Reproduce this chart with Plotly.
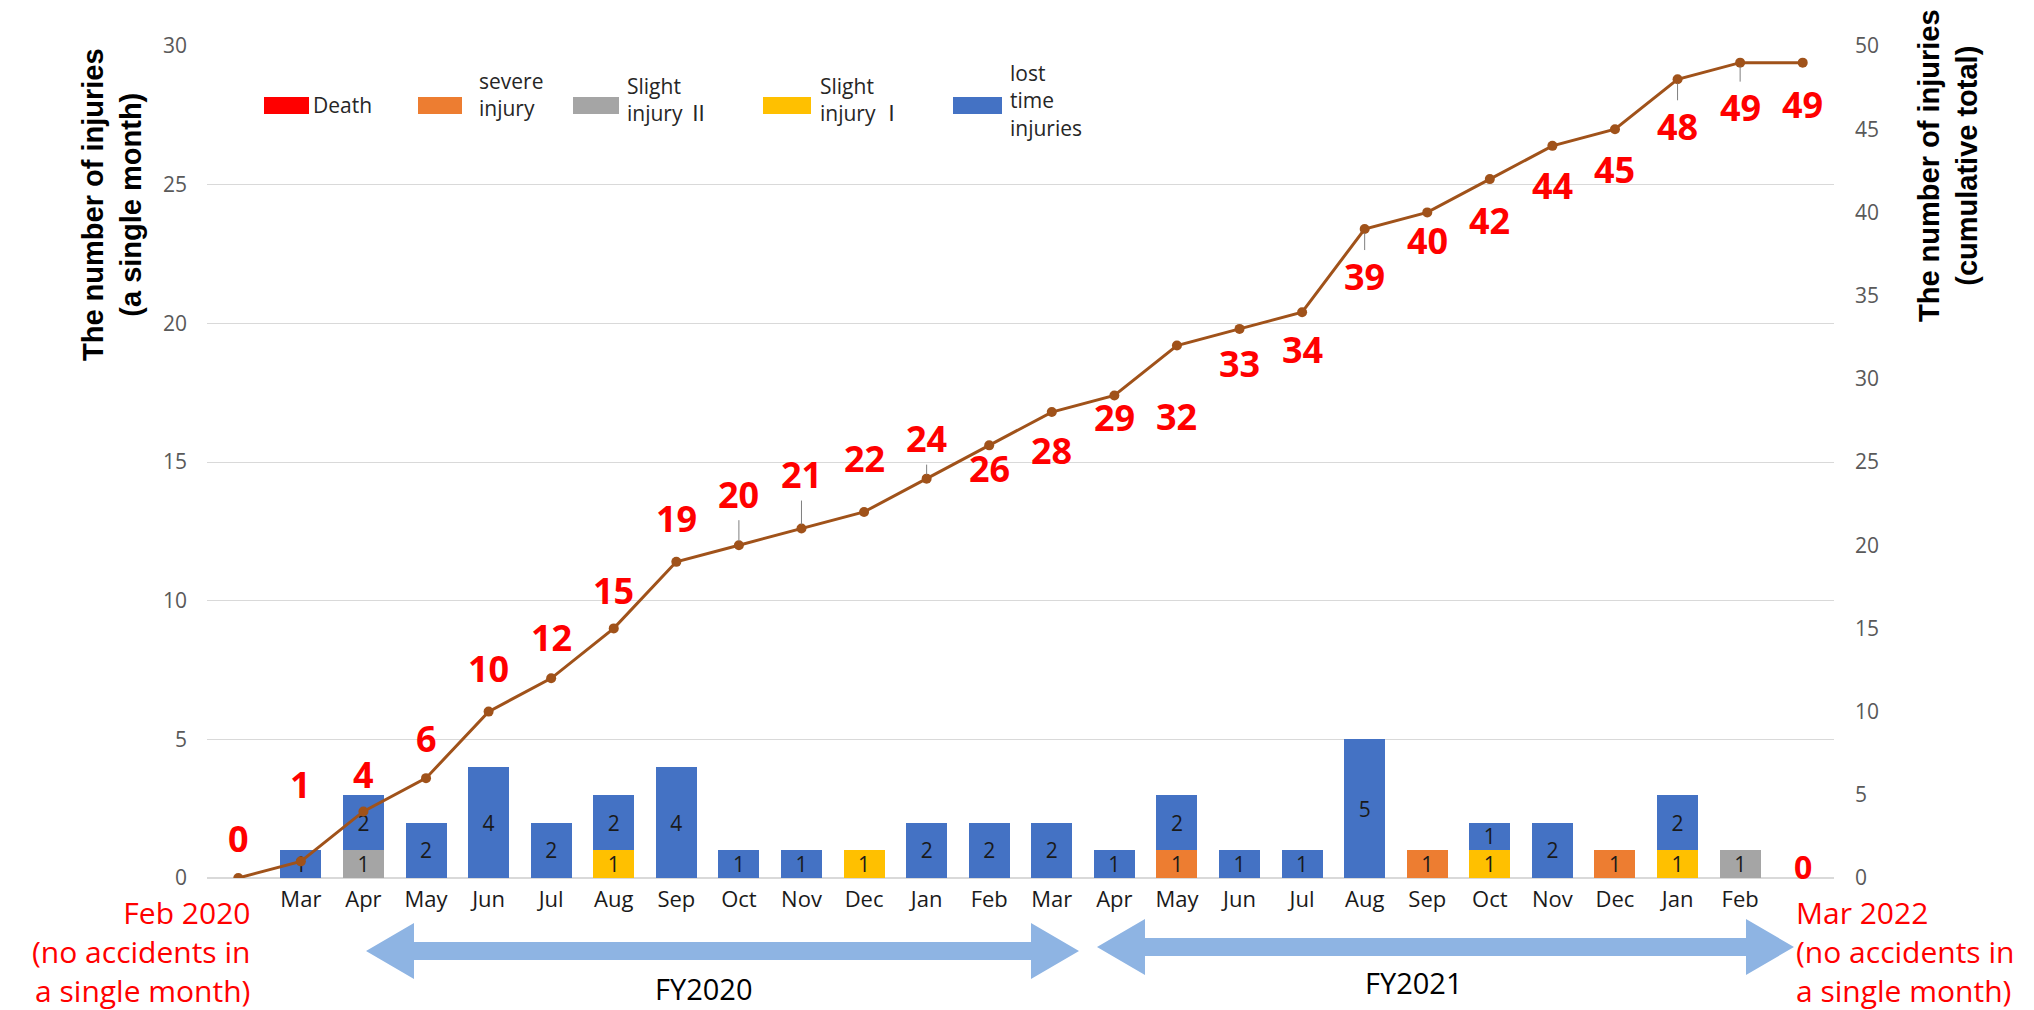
import plotly.graph_objects as go

# ---------------- data ----------------
months = ["Feb", "Mar", "Apr", "May", "Jun", "Jul", "Aug", "Sep", "Oct", "Nov", "Dec", "Jan", "Feb",
          "Mar", "Apr", "May", "Jun", "Jul", "Aug", "Sep", "Oct", "Nov", "Dec", "Jan", "Feb", "Mar"]
tick_labels = [""] + months[1:25] + [""]

death     = [0, 0, 0, 0, 0, 0, 0, 0, 0, 0, 0, 0, 0, 0, 0, 0, 0, 0, 0, 0, 0, 0, 0, 0, 0, 0]
severe    = [0, 0, 0, 0, 0, 0, 0, 0, 0, 0, 0, 0, 0, 0, 0, 1, 0, 0, 0, 1, 0, 0, 1, 0, 0, 0]
slight2   = [0, 0, 1, 0, 0, 0, 0, 0, 0, 0, 0, 0, 0, 0, 0, 0, 0, 0, 0, 0, 0, 0, 0, 0, 1, 0]
slight1   = [0, 0, 0, 0, 0, 0, 1, 0, 0, 0, 1, 0, 0, 0, 0, 0, 0, 0, 0, 0, 1, 0, 0, 1, 0, 0]
lost_time = [0, 1, 2, 2, 4, 2, 2, 4, 1, 1, 0, 2, 2, 2, 1, 2, 1, 1, 5, 0, 1, 2, 0, 2, 0, 0]
cumulative = [0, 1, 4, 6, 10, 12, 15, 19, 20, 21, 22, 24, 26, 28, 29, 32, 33, 34, 39, 40, 42, 44, 45, 48, 49, 49]

JP = "<span style='font-family:Noto Sans CJK JP'>"
series_names = ["Death", "severe<br>injury", f"Slight<br>injury {JP}Ⅱ</span>",
                f"Slight<br>injury {JP}Ⅰ</span>", "lost<br>time<br>injuries"]
series_vals = [death, severe, slight2, slight1, lost_time]
colors = ["#FF0000", "#ED7D31", "#A5A5A5", "#FFC000", "#4472C4"]
line_color = "#A0521A"

# label placement (pixels, + = above point), and which labels have leader lines
label_offsets = [40, 77, 37, 40, 43, 41, 38, 43, 51, 54, 53, 40, -23, -38, -22, -71, -35, -37,
                 -47, -28, -41, -40, -40, -47, -45, -42]
leaders = {8, 9, 11, 18, 23, 24}

BODY = "Open Sans, Liberation Sans, sans-serif"
TITLE = "Liberation Sans, Arial, sans-serif"

W, H = 2034, 1010
ML, MR, MT, MB = 207, 200, 46, 132
PW, PH = W - ML - MR, H - MT - MB


def fx(p):
    return (p - ML) / PW


def fy(p):
    return (H - MB - p) / PH


x = list(range(len(months)))
fig = go.Figure()

for name, vals, col in zip(series_names, series_vals, colors):
    fig.add_trace(go.Bar(
        x=x, y=vals, name=name, marker=dict(color=col, line=dict(width=0)),
        text=[str(v) if v else "" for v in vals], textposition="inside", textangle=0,
        insidetextanchor="middle", constraintext="none",
        textfont=dict(family=BODY, size=21, color="#1a1a1a"),
        showlegend=False, yaxis="y"))

fig.add_trace(go.Scatter(
    x=x, y=cumulative, mode="lines+markers", yaxis="y2",
    line=dict(color=line_color, width=3), marker=dict(color=line_color, size=10),
    showlegend=False))

annotations = []
for i, v in enumerate(cumulative):
    annotations.append(dict(
        x=i, y=v, xref="x", yref="y2", text=f"<b>{v}</b>",
        font=dict(family=BODY, size=36, color="#FF0000"),
        showarrow=True, arrowhead=0, arrowwidth=1, standoff=4,
        arrowcolor="#7F7F7F" if i in leaders else "rgba(0,0,0,0)",
        ax=0, ay=-label_offsets[i]))

# monthly zero for Mar 2022
annotations.append(dict(x=25, y=0, xref="x", yref="y", text="<b>0</b>", showarrow=False,
                        yanchor="middle", yshift=12,
                        font=dict(family=BODY, size=32, color="#FF0000")))

# axis titles
annotations.append(dict(x=fx(112), y=fy(205), xref="paper", yref="paper",
                        xanchor="center", yanchor="middle",
                        text="<b>The number of injuries<br>(a single month)</b>", textangle=-90,
                        showarrow=False, font=dict(family=TITLE, size=29, color="black")))
annotations.append(dict(x=fx(1948), y=fy(166), xref="paper", yref="paper",
                        xanchor="center", yanchor="middle",
                        text="<b>The number of injuries<br>(cumulative total)</b>", textangle=-90,
                        showarrow=False, font=dict(family=TITLE, size=29, color="black")))

# bottom notes
annotations.append(dict(x=fx(252), y=fy(951), xref="paper", yref="paper", xanchor="right",
                        yanchor="middle", align="right", showarrow=False,
                        text="Feb 2020<br>(no accidents in<br>a single month)",
                        font=dict(family=BODY, size=30, color="#FF0000")))
annotations.append(dict(x=fx(1794), y=fy(951), xref="paper", yref="paper", xanchor="left",
                        yanchor="middle", align="left", showarrow=False,
                        text="Mar 2022<br>(no accidents in<br>a single month)",
                        font=dict(family=BODY, size=30, color="#FF0000")))
annotations.append(dict(x=fx(704), y=fy(988), xref="paper", yref="paper", showarrow=False,
                        xanchor="center", yanchor="middle",
                        text="FY2020", font=dict(family=BODY, size=29, color="black")))
annotations.append(dict(x=fx(1414), y=fy(982), xref="paper", yref="paper", showarrow=False,
                        xanchor="center", yanchor="middle",
                        text="FY2021", font=dict(family=BODY, size=29, color="black")))

# manual legend
legend_items = [(264, 309, 311, 105), (418, 462, 477, 95), (573, 619, 625, 99),
                (763, 811, 818, 99), (953, 1002, 1008, 100)]
shapes = []
for (s0, s1, tx, ty), name, col in zip(legend_items, series_names, colors):
    shapes.append(dict(type="rect", xref="paper", yref="paper", x0=fx(s0), x1=fx(s1),
                       y0=fy(114), y1=fy(97), fillcolor=col, line=dict(width=0)))
    annotations.append(dict(x=fx(tx), y=fy(ty), xref="paper", yref="paper", xanchor="left",
                            yanchor="middle", align="left", showarrow=False, text=name,
                            font=dict(family=BODY, size=21, color="#262626")))


def arrow_path(x0, x1, yc, head=48, hh=28, sh=9):
    pts = [(x0, yc), (x0 + head, yc - hh), (x0 + head, yc - sh), (x1 - head, yc - sh),
           (x1 - head, yc - hh), (x1, yc), (x1 - head, yc + hh), (x1 - head, yc + sh),
           (x0 + head, yc + sh), (x0 + head, yc + hh)]
    return "M " + " L ".join(f"{fx(a):.5f},{fy(b):.5f}" for a, b in pts) + " Z"


for x0, x1, yc in [(366, 1079, 951), (1097, 1794, 947)]:
    shapes.append(dict(type="path", xref="paper", yref="paper", path=arrow_path(x0, x1, yc),
                       fillcolor="#8EB4E3", line=dict(width=0)))

fig.update_layout(
    width=W, height=H, margin=dict(l=ML, r=MR, t=MT, b=MB),
    paper_bgcolor="white", plot_bgcolor="white",
    barmode="stack", bargap=0.345,
    uniformtext=dict(mode=False),
    xaxis=dict(range=[-0.5, 25.5], tickmode="array", tickvals=x, ticktext=tick_labels,
               showgrid=False, zeroline=False, showline=False, ticks="",
               tickfont=dict(family=BODY, size=22, color="#1a1a1a"), ticklabelstandoff=6),
    yaxis=dict(range=[0, 30], dtick=5, showgrid=True, gridcolor="#D9D9D9", gridwidth=1,
               zeroline=True, zerolinecolor="#D9D9D9", showline=False, ticks="",
               tickfont=dict(family=BODY, size=21, color="#595959"), ticklabelstandoff=19),
    yaxis2=dict(range=[0, 50], dtick=5, overlaying="y", side="right", showgrid=False,
                zeroline=False, showline=False, ticks="",
                tickfont=dict(family=BODY, size=21, color="#595959"), ticklabelstandoff=20),
    annotations=annotations, shapes=shapes,
)

fig.write_html("out.html", config={"displayModeBar": False})
